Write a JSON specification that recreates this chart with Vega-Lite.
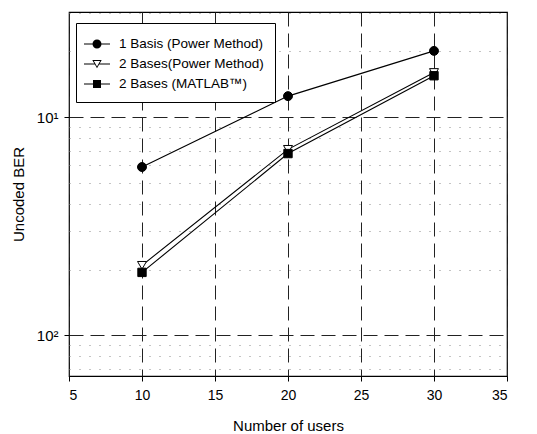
{
  "$schema": "https://vega.github.io/schema/vega-lite/v6.json",
  "width": 438,
  "height": 364,
  "autosize": "none",
  "padding": {"left": 69, "top": 12, "right": 30, "bottom": 58},
  "background": "white",
  "config": {
    "view": {"stroke": "black", "strokeWidth": 1.2},
    "font": "Liberation Sans"
  },
  "data": {
    "values": [
      {"users": 10, "ber": 0.059, "series": "1 Basis (Power Method)"},
      {"users": 20, "ber": 0.1247, "series": "1 Basis (Power Method)"},
      {"users": 30, "ber": 0.201, "series": "1 Basis (Power Method)"},
      {"users": 10, "ber": 0.0209, "series": "2 Bases(Power Method)"},
      {"users": 20, "ber": 0.0711, "series": "2 Bases(Power Method)"},
      {"users": 30, "ber": 0.16, "series": "2 Bases(Power Method)"},
      {"users": 10, "ber": 0.0194, "series": "2 Bases (MATLAB™)"},
      {"users": 20, "ber": 0.068, "series": "2 Bases (MATLAB™)"},
      {"users": 30, "ber": 0.1546, "series": "2 Bases (MATLAB™)"}
    ]
  },
  "encoding": {
    "x": {
      "field": "users",
      "type": "quantitative",
      "scale": {"domain": [5, 35], "nice": false, "zero": false},
      "axis": {
        "values": [5, 10, 15, 20, 25, 30, 35],
        "title": "Number of users",
        "titleFont": "Liberation Sans",
        "titleFontSize": 15,
        "titleFontWeight": "normal",
        "titleColor": "black",
        "titlePadding": 16,
        "labelFont": "Liberation Sans",
        "labelFontSize": 14,
        "labelColor": "black",
        "labelPadding": 7,
        "tickColor": "black",
        "tickSize": 5,
        "domain": false,
        "grid": true,
        "gridColor": "#222222",
        "gridDash": [14, 7],
        "gridWidth": 1
      }
    },
    "y": {
      "field": "ber",
      "type": "quantitative",
      "scale": {"type": "log", "domain": [0.0065, 0.303], "nice": false},
      "axis": {
        "values": [0.007, 0.008, 0.009, 0.01, 0.02, 0.03, 0.04, 0.05, 0.06, 0.07, 0.08, 0.09, 0.1, 0.2, 0.3],
        "labelExpr": "datum.value == 0.1 ? '10¹' : (datum.value == 0.01 ? '10²' : '')",
        "title": "Uncoded BER",
        "titleFont": "Liberation Sans",
        "titleFontSize": 15,
        "titleFontWeight": "normal",
        "titleColor": "black",
        "titlePadding": 10,
        "labelFont": "Liberation Sans",
        "labelFontSize": 15,
        "labelColor": "black",
        "labelPadding": 6,
        "tickColor": "black",
        "tickSize": 5,
        "tickOpacity": {"condition": {"test": "datum.value == 0.1 || datum.value == 0.01", "value": 1}, "value": 0},
        "domain": false,
        "grid": true,
        "gridColor": {"condition": {"test": "datum.value == 0.1 || datum.value == 0.01", "value": "#222222"}, "value": "#888888"},
        "gridDash": {"condition": {"test": "datum.value == 0.1 || datum.value == 0.01", "value": [14, 7]}, "value": [1, 9]},
        "gridWidth": 1
      }
    }
  },
  "layer": [
    {
      "mark": {"type": "line", "color": "black", "strokeWidth": 1.1},
      "encoding": {"detail": {"field": "series"}}
    },
    {
      "transform": [{"filter": "datum.series == '1 Basis (Power Method)'"}],
      "mark": {"type": "point", "shape": "circle", "filled": true, "fill": "black", "stroke": "black", "strokeWidth": 1, "opacity": 1, "size": 80}
    },
    {
      "transform": [{"filter": "datum.series == '2 Bases(Power Method)'"}],
      "mark": {"type": "point", "shape": "triangle-down", "filled": true, "fill": "white", "stroke": "black", "strokeWidth": 1, "opacity": 1, "size": 80}
    },
    {
      "transform": [{"filter": "datum.series == '2 Bases (MATLAB™)'"}],
      "mark": {"type": "point", "shape": "square", "filled": true, "fill": "black", "stroke": "black", "strokeWidth": 1, "opacity": 1, "size": 70}
    },
    {
      "transform": [{"filter": "datum.users < 0"}],
      "mark": {"type": "point", "filled": true, "color": "black"},
      "encoding": {
        "shape": {
          "field": "series",
          "scale": {
            "domain": ["1 Basis (Power Method)", "2 Bases(Power Method)", "2 Bases (MATLAB™)"],
            "range": [
              "M-1.3,-0.06H1.3V0.06H-1.3ZM0.45,0A0.45,0.45 0 1,1 -0.45,0A0.45,0.45 0 1,1 0.45,0Z",
              "M-1.3,-0.06H-0.2V0.06H-1.3ZM0.2,-0.06H1.3V0.06H0.2ZM-0.47,-0.4L0.47,-0.4L0,0.42ZM-0.31,-0.29L0,0.24L0.31,-0.29Z",
              "M-1.3,-0.06H1.3V0.06H-1.3ZM-0.4,-0.4H0.4V0.4H-0.4Z"
            ]
          },
          "legend": {
            "title": null,
            "orient": "none",
            "legendX": 7,
            "legendY": 11,
            "symbolSize": 400,
            "symbolFillColor": "black",
            "symbolStrokeColor": "black",
            "symbolStrokeWidth": 0,
            "symbolOpacity": 1,
            "labelFont": "Liberation Sans",
            "labelFontSize": 13.5,
            "labelColor": "black",
            "labelOffset": 12,
            "labelLimit": 300,
            "padding": 11,
            "rowPadding": 3,
            "strokeColor": "black",
            "fillColor": "white",
            "encode": {
              "symbols": {
                "update": {
                  "fill": {"value": "black"},
                  "opacity": {"value": 1}
                }
              }
            }
          }
        }
      }
    }
  ]
}
